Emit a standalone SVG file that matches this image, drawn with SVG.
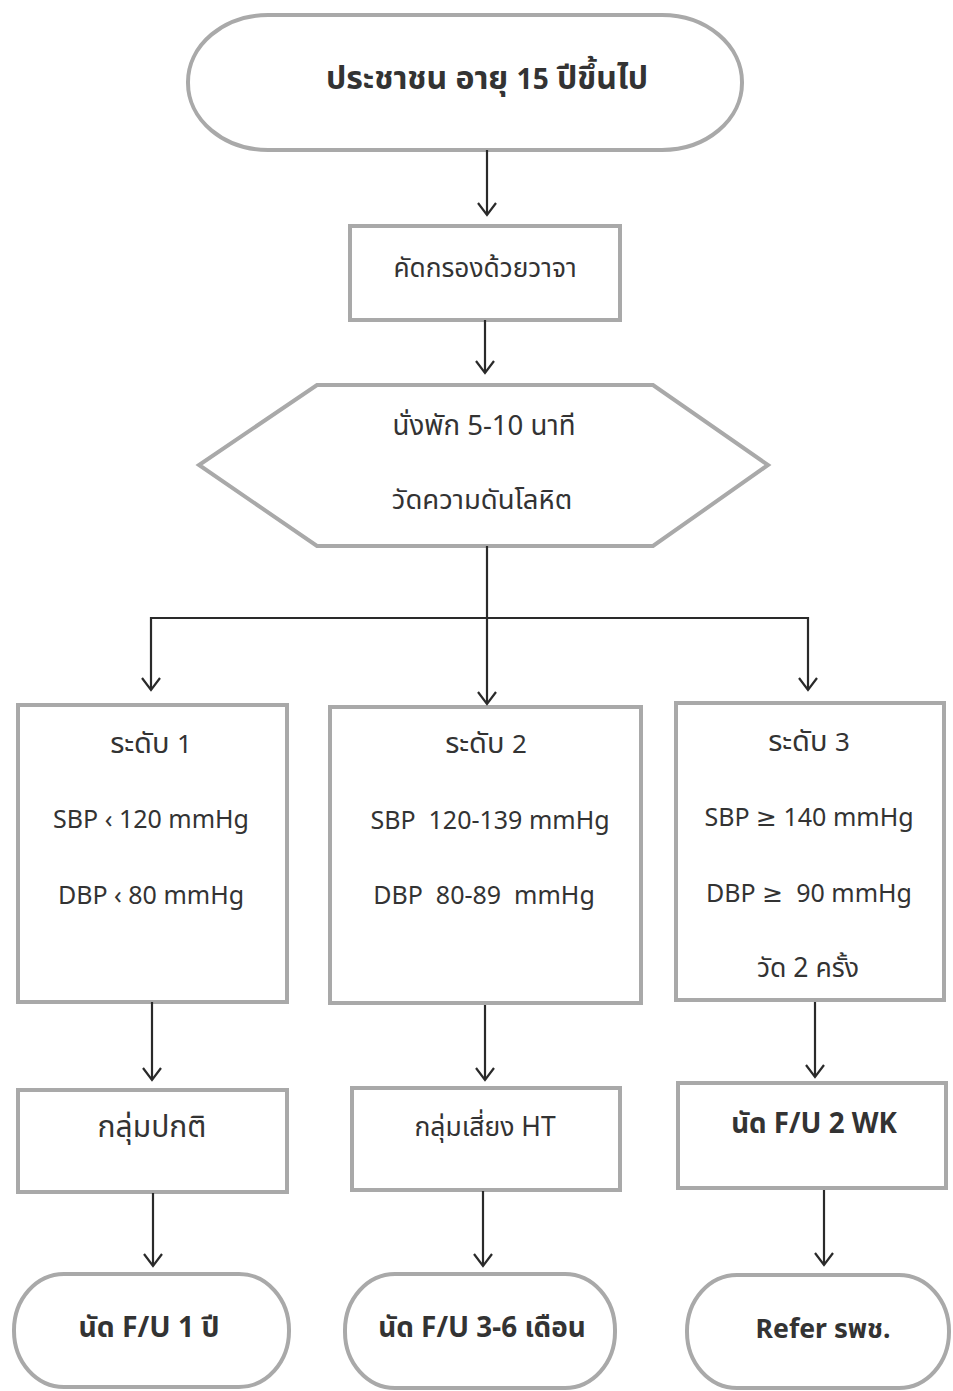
<svg xmlns="http://www.w3.org/2000/svg" width="953" height="1391" viewBox="0 0 953 1391">
<defs>
<marker id="arr" viewBox="0 0 20 20" refX="18" refY="10" markerWidth="20" markerHeight="20" markerUnits="userSpaceOnUse" orient="auto-start-reverse">
<path d="M6,1 L18,10 L6,19" fill="none" stroke="#2a2a2a" stroke-width="2.2"/>
</marker>
<style>
.shape{fill:#fff;stroke:#a9a9a9;stroke-width:4}
.t{font-family:"Noto Sans","Noto Sans Thai","Tahoma","DejaVu Sans",sans-serif;fill:#333;text-anchor:middle;font-size:25px}
.b{font-weight:bold}
.c{fill:none;stroke:#2a2a2a;stroke-width:2.2}
</style>
</defs>
<rect width="953" height="1391" fill="#fff"/>
<g id="start">
<rect class="shape" x="188" y="15" width="554" height="135" rx="80" ry="67"/>
<text class="t b" x="487" y="89" style="font-size:32px">ประชาชน อายุ <tspan style="font-size:28px">15</tspan> ปีขึ้นไป</text>
</g>
<g id="screen">
<rect class="shape" x="350" y="226" width="270" height="94"/>
<text class="t" x="485" y="277" style="font-size:26.3px">คัดกรองด้วยวาจา</text>
</g>
<g id="measure">
<polygon class="shape" points="317,385 653,385 768,465 653,546 317,546 199,465"/>
<text class="t" x="484" y="435" style="font-size:27.6px">นั่งพัก 5-10 นาที</text>
<text class="t" x="482" y="509" style="font-size:27.5px">วัดความดันโลหิต</text>
</g>
<g id="level1">
<rect class="shape" x="18" y="705" width="269" height="297"/>
<text class="t" x="151" y="753" style="font-size:29px">ระดับ <tspan style="font-size:26px">1</tspan></text>
<text class="t" x="151" y="828">SBP ‹ 120 mmHg</text>
<text class="t" x="151" y="904">DBP ‹ 80 mmHg</text>
</g>
<g id="level2">
<rect class="shape" x="330" y="707" width="311" height="296"/>
<text class="t" x="486" y="753" style="font-size:29px">ระดับ <tspan style="font-size:26px">2</tspan></text>
<text class="t" x="490" y="829" xml:space="preserve">SBP  120-139 mmHg</text>
<text class="t" x="484" y="904" xml:space="preserve">DBP  80-89  mmHg</text>
</g>
<g id="level3">
<rect class="shape" x="676" y="703" width="268" height="297"/>
<text class="t" x="809" y="751" style="font-size:29px">ระดับ <tspan style="font-size:26px">3</tspan></text>
<text class="t" x="809" y="826">SBP ≥ 140 mmHg</text>
<text class="t" x="809" y="902" xml:space="preserve">DBP ≥  90 mmHg</text>
<text class="t" x="808" y="977" style="font-size:26.6px">วัด 2 ครั้ง</text>
</g>
<g id="normal">
<rect class="shape" x="18" y="1090" width="269" height="102"/>
<text class="t" x="152" y="1137" style="font-size:30px">กลุ่มปกติ</text>
</g>
<g id="risk">
<rect class="shape" x="352" y="1088" width="268" height="102"/>
<text class="t" x="485" y="1136" style="font-size:26.5px">กลุ่มเสี่ยง HT</text>
</g>
<g id="fu2wk">
<rect class="shape" x="678" y="1083" width="268" height="105"/>
<text class="t b" x="814" y="1133" style="font-size:27.7px">นัด F/U 2 WK</text>
</g>
<g id="fu1y">
<rect class="shape" x="14" y="1274" width="275" height="113" rx="50" ry="56"/>
<text class="t b" x="149" y="1337" style="font-size:28.3px">นัด F/U 1 ปี</text>
</g>
<g id="fu36m">
<rect class="shape" x="345" y="1274" width="270" height="114" rx="50" ry="56"/>
<text class="t b" x="482" y="1337" style="font-size:27.9px">นัด F/U 3-6 เดือน</text>
</g>
<g id="refer">
<rect class="shape" x="687" y="1275" width="262" height="113" rx="50" ry="56"/>
<text class="t b" x="823" y="1338" style="font-size:26.6px">Refer รพช.</text>
</g>
<g id="connectors">
<line class="c" x1="487" y1="150" x2="487" y2="215" marker-end="url(#arr)"/>
<line class="c" x1="485" y1="320" x2="485" y2="373" marker-end="url(#arr)"/>
<line class="c" x1="487" y1="546" x2="487" y2="704" marker-end="url(#arr)"/>
<polyline class="c" points="151,690 151,618 808,618 808,690" marker-start="url(#arr)" marker-end="url(#arr)"/>
<line class="c" x1="152" y1="1002" x2="152" y2="1080" marker-end="url(#arr)"/>
<line class="c" x1="485" y1="1005" x2="485" y2="1080" marker-end="url(#arr)"/>
<line class="c" x1="815" y1="1002" x2="815" y2="1077" marker-end="url(#arr)"/>
<line class="c" x1="153" y1="1193" x2="153" y2="1266" marker-end="url(#arr)"/>
<line class="c" x1="483" y1="1191" x2="483" y2="1266" marker-end="url(#arr)"/>
<line class="c" x1="824" y1="1190" x2="824" y2="1265" marker-end="url(#arr)"/>
</g>
</svg>
